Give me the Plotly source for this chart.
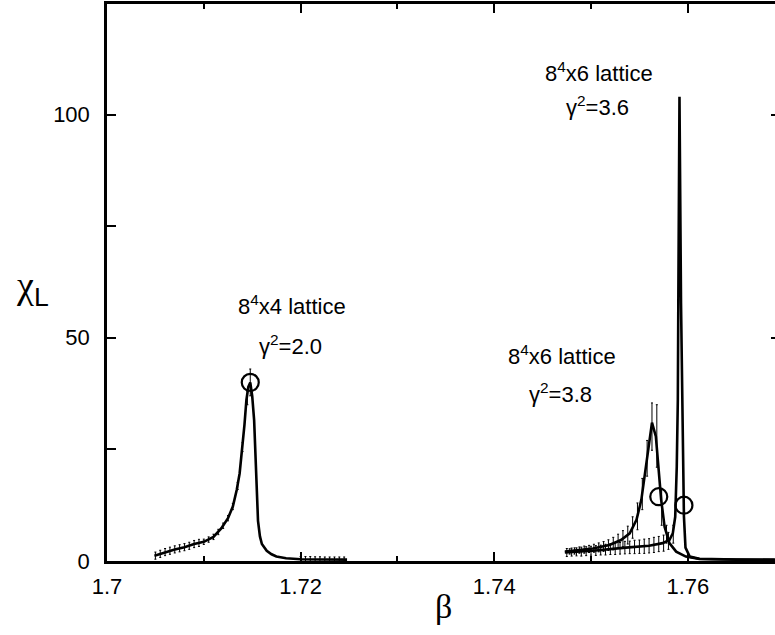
import plotly.graph_objects as go

# ---------------- data ----------------
# Curve A : 8^4x4 lattice, gamma^2 = 2.0
a_beta = [1.7049, 1.7060, 1.7070, 1.7080, 1.7090, 1.7100, 1.7110, 1.7118, 1.7125, 1.7130,
          1.7134, 1.7137, 1.7140, 1.7142, 1.7144, 1.7146, 1.7148, 1.7150, 1.7152, 1.7153,
          1.7154, 1.7156, 1.7158, 1.7160, 1.7165, 1.7170, 1.7175, 1.7185, 1.7200, 1.7220, 1.7248]
a_chi = [1.2, 2.0, 2.6, 3.1, 3.8, 4.3, 5.4, 7.3, 9.6, 12.2,
         15.9, 19.6, 25.5, 30.5, 36.0, 39.0, 40.0, 37.0, 31.5, 25.0,
         18.0, 9.0, 5.5, 3.8, 2.3, 1.5, 1.0, 0.6, 0.4, 0.3, 0.3]
a_pt_beta = [1.7050, 1.7055, 1.7060, 1.7065, 1.7070, 1.7075, 1.7080, 1.7085, 1.7090, 1.7095,
             1.7100, 1.7105, 1.7110, 1.7115, 1.7120, 1.7125, 1.7130, 1.7135, 1.7140, 1.7145,
             1.7148, 1.7200, 1.7205, 1.7210, 1.7215, 1.7220, 1.7225, 1.7230, 1.7235, 1.7240, 1.7245]
a_pt_chi = [1.2, 1.6, 2.0, 2.3, 2.6, 2.85, 3.1, 3.4, 3.8, 4.05,
            4.3, 4.8, 5.4, 6.5, 7.9, 9.6, 12.2, 16.8, 25.5, 36.5,
            40.0, 0.4, 0.4, 0.4, 0.35, 0.35, 0.3, 0.3, 0.3, 0.3, 0.3]
a_pt_err = [0.8, 0.8, 0.8, 0.8, 0.8, 0.8, 0.8, 0.8, 0.8, 0.8,
            0.6, 0.6, 0.6, 0.6, 0.6, 0.6, 0.7, 0.8, 1.0, 1.5,
            3.0, 0.6, 0.6, 0.6, 0.6, 0.6, 0.6, 0.6, 0.6, 0.6, 0.6]

# Curve B : 8^4x6 lattice, gamma^2 = 3.8
b_beta = [1.7473, 1.7490, 1.7502, 1.7519, 1.7531, 1.7540, 1.7547, 1.7552, 1.7556, 1.7560,
          1.7563, 1.7567, 1.7570, 1.75725, 1.7576, 1.7581, 1.7588, 1.7598, 1.7612, 1.7640, 1.7690]
b_chi = [2.1, 2.5, 2.8, 3.6, 4.7, 6.2, 9.2, 13.7, 19.6, 26.4,
         31.0, 27.9, 19.6, 13.7, 7.7, 4.0, 2.1, 1.0, 0.45, 0.3, 0.2]
b_pt_beta = [1.7478, 1.7483, 1.7488, 1.7493, 1.7498, 1.7503, 1.7508, 1.7513, 1.7518, 1.7523,
             1.7528, 1.7533, 1.7538, 1.7543, 1.7548, 1.7553, 1.7558, 1.7563, 1.7568, 1.7573, 1.7578]
b_pt_chi = [2.15, 2.25, 2.45, 2.55, 2.7, 2.85, 3.05, 3.25, 3.55, 3.9,
            4.4, 5.0, 5.8, 7.5, 10.0, 15.0, 23.0, 30.1, 28.0, 12.0, 6.0]
b_pt_err = [0.6, 0.7, 0.7, 0.8, 0.8, 0.9, 1.0, 1.1, 1.2, 1.4,
            1.6, 1.8, 2.0, 2.4, 3.0, 3.5, 4.0, 5.3, 7.0, 4.0, 2.0]

# Curve C : 8^4x6 lattice, gamma^2 = 3.6
c_beta = [1.7473, 1.7502, 1.7536, 1.7560, 1.7574, 1.7581, 1.75845, 1.7587, 1.75886, 1.75897,
          1.75902, 1.75914, 1.75930, 1.75945, 1.75960, 1.75976, 1.7602, 1.7612, 1.7650, 1.7690]
c_chi = [1.9, 2.3, 3.0, 3.4, 4.0, 4.7, 6.2, 9.9, 21.1, 36.1,
         57.8, 104.0, 57.8, 36.0, 10.0, 3.0, 1.0, 0.5, 0.3, 0.3]
c_pt_beta = [1.7475, 1.7480, 1.7485, 1.7490, 1.7495, 1.7500, 1.7505, 1.7510, 1.7515, 1.7520,
             1.7525, 1.7530, 1.7535, 1.7540, 1.7545, 1.7550, 1.7555, 1.7560, 1.7565, 1.7570,
             1.7575, 1.7580, 1.7585]
c_pt_chi = [1.9, 2.0, 2.05, 2.1, 2.2, 2.3, 2.35, 2.45, 2.55, 2.65,
            2.75, 2.85, 3.0, 3.05, 3.15, 3.2, 3.3, 3.4, 3.6, 3.8,
            4.0, 4.5, 6.0]
c_pt_err = [0.9, 0.9, 0.9, 1.0, 1.0, 1.0, 1.1, 1.1, 1.2, 1.2,
            1.3, 1.3, 1.4, 1.4, 1.5, 1.5, 1.6, 1.6, 1.7, 1.7,
            1.8, 1.9, 2.0]

# open circles (peak estimates)
circ_beta = [1.7148, 1.7570, 1.7596]
circ_chi = [40.0, 14.4, 12.5]

# tick labels
x_tickvals = [1.70, 1.72, 1.74, 1.76]
x_ticktext = ["1.7", "1.72", "1.74", "1.76"]
y_tickvals = [0, 50, 100]
y_ticktext = ["0", "50", "100"]

# ---------------- figure ----------------
W, H = 775, 635
ML, MR, MT, MB = 107, 0, 4, 74
PX_PER_BETA = 9680.0
PX_PER_CHI = 4.465
x_range = [1.70, 1.70 + (W - ML - MR) / PX_PER_BETA]
y_range = [0, (H - MT - MB) / PX_PER_CHI]

LINE = dict(color="black", width=2.6)
fig = go.Figure()

def err_trace(xs, ys, es):
    return go.Scatter(x=xs, y=ys, mode="markers",
                      marker=dict(size=2, color="rgba(0,0,0,0)"),
                      error_y=dict(type="data", array=es, visible=True,
                                   color="black", thickness=1, width=1),
                      showlegend=False, hoverinfo="skip")

fig.add_trace(err_trace(a_pt_beta, a_pt_chi, a_pt_err))
fig.add_trace(err_trace(b_pt_beta, b_pt_chi, b_pt_err))
fig.add_trace(err_trace(c_pt_beta, c_pt_chi, c_pt_err))

for xs, ys in [(a_beta, a_chi), (b_beta, b_chi), (c_beta, c_chi)]:
    fig.add_trace(go.Scatter(x=xs, y=ys, mode="lines", line=LINE,
                             showlegend=False, hoverinfo="skip"))

fig.add_trace(go.Scatter(x=circ_beta, y=circ_chi, mode="markers",
                         marker=dict(symbol="circle-open", size=17, color="black",
                                     line=dict(color="black", width=2.2)),
                         showlegend=False))

# dummy trace for right-hand tick marks
fig.add_trace(go.Scatter(x=[None], y=[None], yaxis="y2", showlegend=False))

TICKFONT = dict(family="Liberation Sans, Arial, sans-serif", size=22, color="black")

fig.update_layout(
    width=W, height=H,
    margin=dict(l=ML, r=MR, t=MT, b=MB),
    paper_bgcolor="white", plot_bgcolor="white",
    xaxis=dict(range=x_range, showgrid=False, zeroline=False,
               showline=True, linecolor="black", linewidth=2.5, mirror="ticks",
               ticks="inside", ticklen=9, tickwidth=2, tickcolor="black",
               tickvals=x_tickvals, ticktext=x_ticktext, tickfont=TICKFONT,
               ticklabelstandoff=4,
               minor=dict(ticks="inside", dtick=0.01, tick0=1.70, ticklen=5,
                          tickwidth=2, tickcolor="black", showgrid=False)),
    yaxis=dict(range=y_range, showgrid=False, zeroline=False,
               showline=True, linecolor="black", linewidth=2.5, mirror=False,
               ticks="inside", ticklen=9, tickwidth=2, tickcolor="black",
               tickvals=y_tickvals, ticktext=y_ticktext, tickfont=TICKFONT,
               ticklabelstandoff=10,
               minor=dict(ticks="inside", dtick=25, tick0=0, ticklen=9,
                          tickwidth=2, tickcolor="black", showgrid=False)),
    yaxis2=dict(range=y_range, overlaying="y", side="right", showgrid=False,
                zeroline=False, showline=False, showticklabels=False,
                ticks="inside", ticklen=4, tickwidth=2, tickcolor="black",
                tickvals=y_tickvals),
)

def px_to_paper(px, py):
    return (px - ML) / (W - ML - MR), (H - MB - py) / (H - MT - MB)

LABFONT = dict(family="Liberation Sans, Arial, sans-serif", size=22, color="black")
labels = [
    ("8<sup>4</sup>x4 lattice", 292, 305),
    ("γ<sup>2</sup>=2.0", 290, 345),
    ("8<sup>4</sup>x6 lattice", 562, 355),
    ("γ<sup>2</sup>=3.8", 560, 393),
    ("8<sup>4</sup>x6 lattice", 599, 72),
    ("γ<sup>2</sup>=3.6", 597, 106),
]
for txt, px, py in labels:
    xp, yp = px_to_paper(px, py)
    fig.add_annotation(text=txt, x=xp, y=yp, xref="paper", yref="paper",
                       showarrow=False, xanchor="center", yanchor="middle",
                       font=LABFONT)

# axis titles
xp, yp = px_to_paper(444, 606)
fig.add_annotation(text="β", x=xp, y=yp, xref="paper", yref="paper", showarrow=False,
                   xanchor="center", yanchor="middle",
                   font=dict(family="Liberation Serif, serif", size=34, color="black"))
xp, yp = px_to_paper(32, 288)
fig.add_annotation(text="χ<sub><span style='font-family:Liberation Sans'>L</span></sub>",
                   x=xp, y=yp, xref="paper", yref="paper", showarrow=False,
                   xanchor="center", yanchor="middle",
                   font=dict(family="Liberation Serif, serif", size=38, color="black"))

fig.write_html("out.html", config={"displayModeBar": False},
               post_script="document.body.style.margin='0px';")
